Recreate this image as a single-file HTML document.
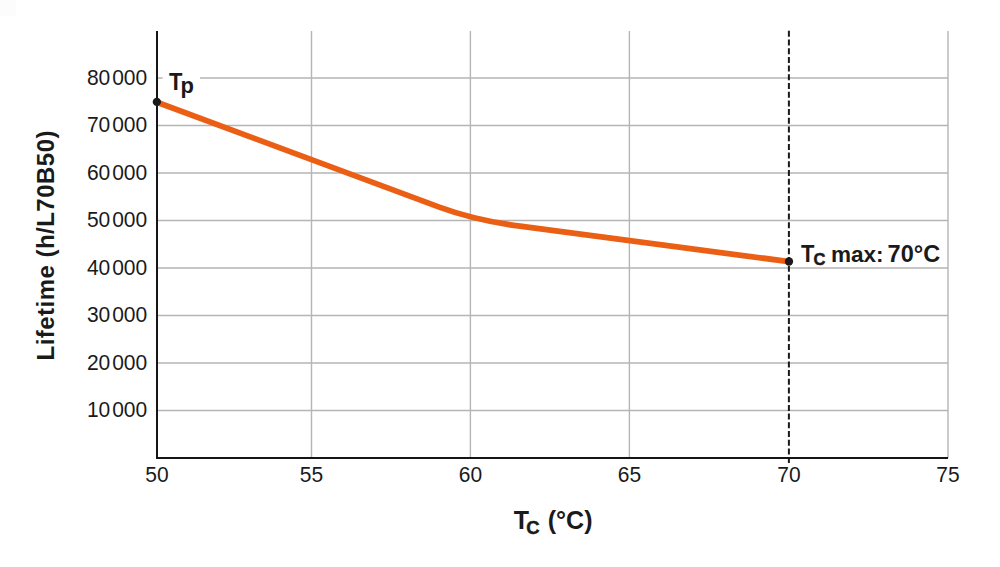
<!DOCTYPE html>
<html><head><meta charset="utf-8">
<style>
html,body{margin:0;padding:0;background:#fff;}
body{width:1000px;height:567px;overflow:hidden;position:relative;}
svg{position:absolute;left:0;top:0;display:block;}
text{font-family:"Liberation Sans",sans-serif;fill:#1a1a1a;}
</style></head><body>
<svg width="1000" height="567" viewBox="0 0 1000 567">
<rect x="0" y="0" width="16" height="16" fill="#fcfcfc"/>
<g stroke="#b5b5b5" stroke-width="1.4" fill="none">
<line x1="157" y1="78" x2="948" y2="78"/>
<line x1="157" y1="125.5" x2="948" y2="125.5"/>
<line x1="157" y1="173" x2="948" y2="173"/>
<line x1="157" y1="220.5" x2="948" y2="220.5"/>
<line x1="157" y1="268" x2="948" y2="268"/>
<line x1="157" y1="315.5" x2="948" y2="315.5"/>
<line x1="157" y1="363" x2="948" y2="363"/>
<line x1="157" y1="410.5" x2="948" y2="410.5"/>
<line x1="311.5" y1="31" x2="311.5" y2="458"/>
<line x1="470.4" y1="31" x2="470.4" y2="458"/>
<line x1="629.4" y1="31" x2="629.4" y2="458"/>
<line x1="948" y1="31" x2="948" y2="458"/>
</g>
<line x1="788.9" y1="30.8" x2="788.9" y2="463.5" stroke="#1a1a1a" stroke-width="2" stroke-dasharray="6 2.7"/>
<path d="M157,31 V458 H948" stroke="#151515" stroke-width="2" fill="none"/>
<path d="M157,102.2 L440,207.4 Q475.4,220.4 520,226.2 L789,261.6" stroke="#ea5f14" stroke-width="5.8" fill="none" stroke-linejoin="round"/>
<circle cx="156.85" cy="101.9" r="4.15" fill="#1a1a1a"/>
<circle cx="789" cy="261.45" r="4.15" fill="#1a1a1a"/>
<rect x="162.7" y="64" width="37.3" height="30" fill="#fff"/>
<g font-size="21" text-anchor="end">
<g transform="translate(0,84.5) scale(1,1.06)"><text x="147.2" y="0">000</text><text x="110.3" y="0">80</text></g>
<g transform="translate(0,132.0) scale(1,1.06)"><text x="147.2" y="0">000</text><text x="110.3" y="0">70</text></g>
<g transform="translate(0,179.5) scale(1,1.06)"><text x="147.2" y="0">000</text><text x="110.3" y="0">60</text></g>
<g transform="translate(0,227.0) scale(1,1.06)"><text x="147.2" y="0">000</text><text x="110.3" y="0">50</text></g>
<g transform="translate(0,274.5) scale(1,1.06)"><text x="147.2" y="0">000</text><text x="110.3" y="0">40</text></g>
<g transform="translate(0,322.0) scale(1,1.06)"><text x="147.2" y="0">000</text><text x="110.3" y="0">30</text></g>
<g transform="translate(0,369.5) scale(1,1.06)"><text x="147.2" y="0">000</text><text x="110.3" y="0">20</text></g>
<g transform="translate(0,417.0) scale(1,1.06)"><text x="147.2" y="0">000</text><text x="110.3" y="0">10</text></g>
</g>
<text transform="translate(169,89.7) scale(0.935,1)" font-size="23.5" font-weight="bold">T</text><text x="180.6" y="92.8" font-size="22" font-weight="bold">p</text>
<text transform="translate(801,261.8) scale(0.935,1)" font-size="23.5" font-weight="bold">T</text><text x="813.4" y="265" font-size="16.5" font-weight="bold" stroke="#1a1a1a" stroke-width="0.5">C</text><text transform="translate(830.9,261.8) scale(1.025,1)" font-size="22" font-weight="bold">max:</text><text x="887.6" y="261.8" font-size="23.5" font-weight="bold">70°C</text>
<g font-size="21" text-anchor="middle">
<text transform="translate(157,482) scale(1,1.06)">50</text>
<text transform="translate(311.5,482) scale(1,1.06)">55</text>
<text transform="translate(470.4,482) scale(1,1.06)">60</text>
<text transform="translate(629.4,482) scale(1,1.06)">65</text>
<text transform="translate(788.9,482) scale(1,1.06)">70</text>
<text transform="translate(948,482) scale(1,1.06)">75</text>
</g>
<text x="513.7" y="528.5" font-size="25" font-weight="bold">T</text><text x="526.2" y="533.5" font-size="18.5" font-weight="bold" stroke="#1a1a1a" stroke-width="0.5">C</text><text x="547.8" y="528.5" font-size="25" font-weight="bold">(°C)</text>
<text transform="translate(54,360.5) rotate(-90)" font-size="24" font-weight="bold" textLength="230" lengthAdjust="spacing">Lifetime (h/L70B50)</text>
</svg>
</body></html>
